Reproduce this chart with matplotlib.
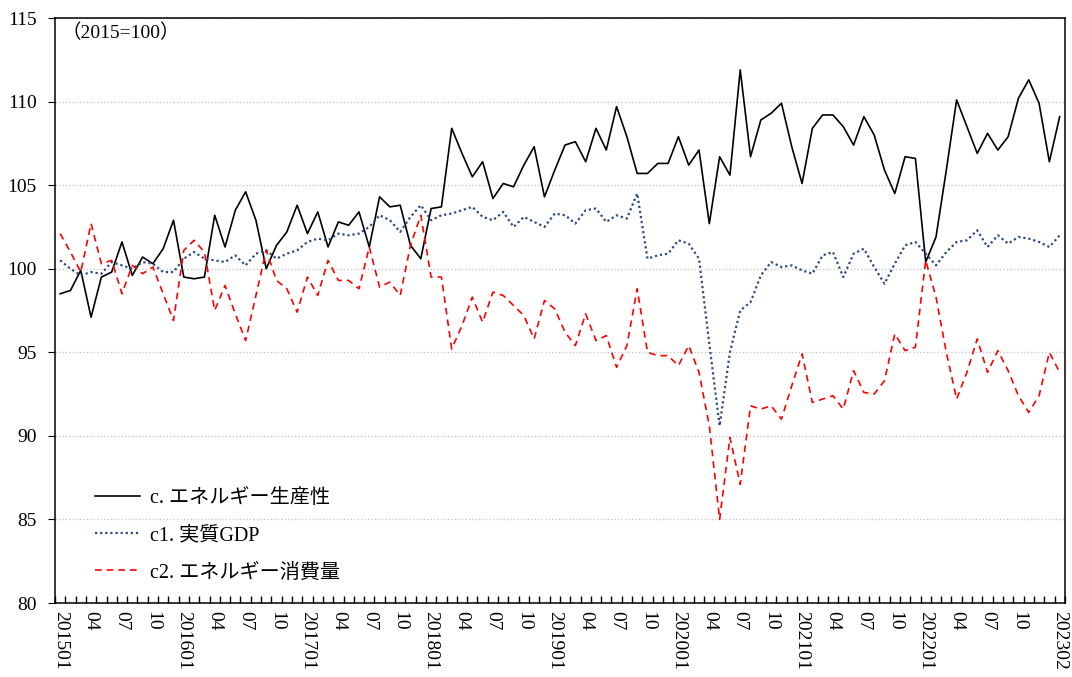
import matplotlib
matplotlib.use("Agg")
import matplotlib.pyplot as plt
from matplotlib.ticker import FixedLocator, MultipleLocator

plt.rcParams['font.family'] = ['Liberation Serif', 'Noto Sans CJK JP']

# months 201501 .. 202302
months = [f"{y}{m:02d}" for y in range(2015, 2024) for m in range(1, 13)][:98]

# c. energy productivity
productivity = [
    98.5, 98.7, 99.9, 97.1, 99.5, 99.8, 101.6, 99.6, 100.7, 100.3, 101.2, 102.9,
    99.5, 99.4, 99.5, 103.2, 101.3, 103.5, 104.6, 102.9, 100.0, 101.4, 102.2, 103.8,
    102.1, 103.4, 101.3, 102.8, 102.6, 103.4, 101.3, 104.3, 103.7, 103.8, 101.4, 100.6,
    103.6, 103.7, 108.4, 106.9, 105.5, 106.4, 104.2, 105.1, 104.9, 106.2, 107.3, 104.3,
    105.9, 107.4, 107.6, 106.4, 108.4, 107.1, 109.7, 107.9, 105.7, 105.7, 106.3, 106.3,
    107.9, 106.2, 107.1, 102.7, 106.7, 105.6, 111.9, 106.7, 108.9, 109.3, 109.9, 107.3,
    105.1, 108.4, 109.2, 109.2, 108.5, 107.4, 109.1, 108.0, 105.9, 104.5, 106.7, 106.6,
    100.4, 101.9, 105.9, 110.1, 108.5, 106.9, 108.1, 107.1, 107.9, 110.2, 111.3, 109.9,
    106.4, 109.1,
]

# c1. real GDP
gdp = [
    100.5, 100.0, 99.6, 99.8, 99.7, 100.4, 100.2, 100.0, 100.4, 100.3, 99.8, 99.8,
    100.6, 101.0, 100.6, 100.5, 100.4, 100.8, 100.2, 100.9, 101.1, 100.6, 100.9, 101.1,
    101.6, 101.8, 101.7, 102.1, 102.0, 102.1, 102.5, 103.2, 102.9, 102.2, 103.1, 103.8,
    102.9, 103.2, 103.3, 103.5, 103.7, 103.1, 102.9, 103.4, 102.5, 103.1, 102.8, 102.5,
    103.3, 103.2, 102.7, 103.5, 103.6, 102.8, 103.2, 103.0, 104.5, 100.6, 100.8, 100.9,
    101.7, 101.5, 100.6, 95.5, 90.6, 95.0, 97.5, 98.0, 99.6, 100.4, 100.1, 100.2,
    99.9, 99.7, 100.8, 101.0, 99.5, 100.9, 101.2, 100.1, 99.1, 100.3, 101.4, 101.6,
    100.9, 100.2, 101.0, 101.6, 101.7, 102.3, 101.3, 102.0, 101.5, 101.9, 101.8, 101.6,
    101.3, 102.0,
]

# c2. energy consumption
energy = [
    102.1, 101.0, 99.8, 102.7, 100.3, 100.5, 98.5, 100.2, 99.7, 100.1, 98.5, 96.9,
    101.1, 101.7, 101.0, 97.5, 99.0, 97.3, 95.7, 98.4, 101.1, 99.3, 98.8, 97.4,
    99.5, 98.4, 100.5, 99.3, 99.3, 98.8, 101.3, 98.9, 99.2, 98.4, 101.4, 103.2,
    99.5, 99.5, 95.2, 96.6, 98.3, 96.8, 98.6, 98.4, 97.8, 97.2, 95.8, 98.1,
    97.6, 96.2, 95.4, 97.3, 95.7, 96.0, 94.1, 95.4, 98.8, 95.0, 94.8, 94.8,
    94.2, 95.4, 93.8, 90.6, 85.0, 89.9, 87.1, 91.8, 91.6, 91.8, 91.0, 93.0,
    94.9, 92.0, 92.2, 92.4, 91.6, 93.9, 92.6, 92.5, 93.3, 96.1, 95.1, 95.3,
    100.5, 98.3, 95.0, 92.2, 93.8, 95.8, 93.8, 95.1, 93.9, 92.4, 91.4, 92.4,
    95.0, 93.8,
]

labels = ["c. エネルギー生産性", "c1. 実質GDP", "c2. エネルギー消費量"]

fig = plt.figure(figsize=(10.72, 6.77), dpi=100)
ax = fig.add_axes([0.0513, 0.1093, 0.942, 0.8641])

x = list(range(len(months)))
ax.plot(x, productivity, color='black', lw=1.2, label=labels[0])
ax.plot(x, gdp, color='#2F4B7C', lw=1.6, ls=(0, (1, 1.3)), label=labels[1])
ax.plot(x, energy, color='#FF0000', lw=1.2, ls=(0, (4, 3)), label=labels[2])

ax.set_xlim(-0.5, len(months) - 0.5)
ax.set_ylim(80, 115)
ax.yaxis.set_major_locator(MultipleLocator(5))
ax.grid(axis='y', color='#C8C8C8', ls=(0, (1, 1.5)), lw=1)
ax.set_axisbelow(True)

# labels every 3 months up to 202210, then the last month
tick_pos = list(range(0, len(months) - 4, 3)) + [len(months) - 1]
tick_lab = [months[i] if months[i].endswith("01") or i == len(months) - 1 else months[i][4:]
            for i in tick_pos]
ax.set_xticks(tick_pos)
ax.set_xticklabels(tick_lab, rotation=270, fontsize=14, va='top', ha='center')
ax.tick_params(axis='x', which='major', length=0, pad=6)
ax.xaxis.set_minor_locator(FixedLocator([i - 0.5 for i in range(len(months) + 1)]))
ax.tick_params(axis='x', which='minor', direction='in', length=5, width=1)
ax.tick_params(axis='y', direction='out', length=5, labelsize=14, pad=8)

for s in ax.spines.values():
    s.set_linewidth(1.1)

ax.text(0.006, 0.974, "（2015=100）", transform=ax.transAxes, fontsize=14, va='center', ha='left')

ax.legend(loc='lower left', bbox_to_anchor=(0.022, 0.004), frameon=False, fontsize=14.5,
          handlelength=2.2, labelspacing=0.9, handletextpad=0.5)

fig.savefig("out.png", dpi=100)
